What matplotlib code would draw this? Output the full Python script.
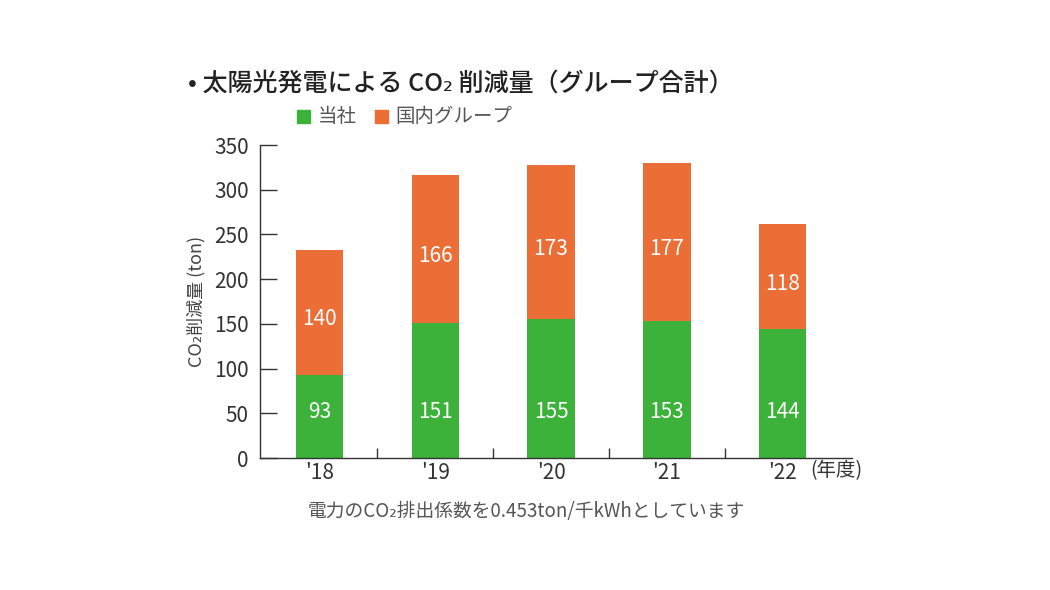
import matplotlib.pyplot as plt
import numpy as np

plt.rcParams['font.family'] = ['Noto Sans CJK JP', 'DejaVu Sans']

# data
years = ["'18", "'19", "'20", "'21", "'22"]
own = [93, 151, 155, 153, 144]
group = [140, 166, 173, 177, 118]

green = '#3cb23a'
orange = '#ec6e37'
txt = '#333333'

fig = plt.figure(figsize=(10.5, 5.9), dpi=100)
ax = fig.add_axes([0.2476, 0.2237, 0.5638, 0.5305])

x = np.arange(len(years))
w = 0.41
ax.bar(x, own, w, color=green)
ax.bar(x, group, w, bottom=own, color=orange)

# labels inside bars
for i in range(len(years)):
    ax.text(x[i], 51, str(own[i]), ha='center', va='center', color='white', fontsize=15)
    ax.text(x[i], own[i] + group[i] / 2 - 8, str(group[i]), ha='center', va='center',
            color='white', fontsize=15)

ax.set_xlim(-0.515, 4.6)
ax.set_ylim(0, 350)
ax.set_yticks(range(0, 351, 50))
ax.set_xticks(x)
ax.set_xticklabels(years)
ax.set_xticks(x[:-1] + 0.5, minor=True)
ax.tick_params(axis='x', which='major', length=0, pad=3, labelsize=15, labelcolor=txt)
ax.tick_params(axis='x', which='minor', direction='in', length=7, width=1, color='#333333')
ax.tick_params(axis='y', direction='in', length=12, width=1, pad=8, labelsize=15,
               labelcolor=txt, color='#333333')
for s in ['top', 'right']:
    ax.spines[s].set_visible(False)
for s in ['left', 'bottom']:
    ax.spines[s].set_color('#333333')
    ax.spines[s].set_linewidth(1)

ax.set_ylabel('CO₂削減量 (ton)', fontsize=13, color='#444444', labelpad=6)

# year unit
fig.text(810 / 1050, 1 - 471 / 590, '(年度)', fontsize=14, color=txt, va='center', ha='left')

# title
fig.text(188 / 1050, 1 - 84 / 590, '• 太陽光発電による CO₂ 削減量（グループ合計）', fontsize=18,
         fontweight='medium', color='#222222', va='center', ha='left')

# legend
fig.patches.append(plt.Rectangle((297 / 1050, 1 - 123 / 590), 13 / 1050, 13 / 590,
                                 transform=fig.transFigure, color=green))
fig.text(318 / 1050, 1 - 116 / 590, '当社', fontsize=14, color='#555555', va='center')
fig.patches.append(plt.Rectangle((375 / 1050, 1 - 123 / 590), 13 / 1050, 13 / 590,
                                 transform=fig.transFigure, color=orange))
fig.text(395 / 1050, 1 - 116 / 590, '国内グループ', fontsize=14, color='#555555', va='center')

# footnote
fig.text(526 / 1050, 1 - 512 / 590, '電力のCO₂排出係数を0.453ton/千kWhとしています', fontsize=13.5,
         color='#555555', ha='center', va='center')

fig.savefig('out.png', dpi=100)
